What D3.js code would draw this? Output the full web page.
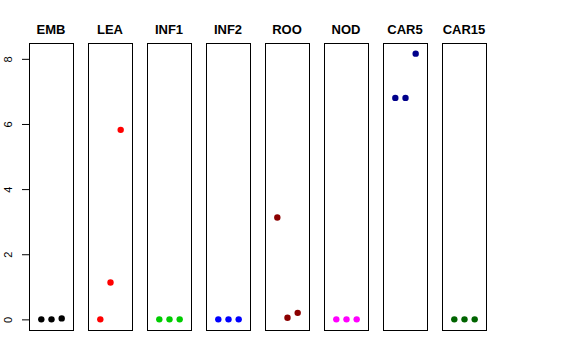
<!DOCTYPE html>
<html>
<head>
<meta charset="utf-8">
<script src="https://cdn.jsdelivr.net/npm/d3@7"></script>
<style>
  body { margin: 0; background: #fff; }
  svg { display: block; }
</style>
</head>
<body>
<div id="chart"></div>
<script>
// tissue panels, three replicate values each
const tissues = ['EMB', 'LEA', 'INF1', 'INF2', 'ROO', 'NOD', 'CAR5', 'CAR15'];
const colors = ['#000000', '#FF0000', '#00CD00', '#0000FF', '#8B0000', '#FF00FF', '#00008B', '#006400'];
const rep1 = [0, 0, 0, 0, 3.13, 0, 6.8, 0];
const rep2 = [0, 1.13, 0, 0, 0.05, 0, 6.8, 0];
const rep3 = [0.03, 5.82, 0, 0, 0.2, 0, 8.16, 0];
const yTicks = [0, 2, 4, 6, 8];

const width = 576, height = 360;
const panelLeft = 29, panelStep = 59, panelW = 44;
const plotTop = 43, plotBottom = 330;

const svg = d3.select('#chart').append('svg')
  .attr('width', width)
  .attr('height', height);

// shared y scale (R style: 4% padding on data range)
const allVals = rep1.concat(rep2, rep3);
const yMin = d3.min(allVals), yMax = d3.max(allVals);
const pad = (yMax - yMin) * 0.04;
const y = d3.scaleLinear()
  .domain([yMin - pad, yMax + pad])
  .range([plotBottom, plotTop]);

// x within each panel: replicate index 1..3 on [0,4] padded
const x = d3.scaleLinear()
  .domain([-0.16, 4.16])
  .range([0, panelW]);

// y axis on the first panel
const yAxis = svg.append('g')
  .attr('transform', `translate(${panelLeft},0)`)
  .call(d3.axisLeft(y).tickValues(yTicks).tickSize(7).tickFormat(d3.format('d')));
yAxis.select('.domain').remove();
yAxis.selectAll('line').attr('stroke', '#000');
yAxis.selectAll('text')
  .attr('font-family', 'Liberation Sans, Arial, sans-serif')
  .attr('font-size', 11)
  .attr('fill', '#000')
  .attr('text-anchor', 'middle')
  .attr('dy', null)
  .attr('x', null)
  .attr('transform', 'translate(-21,0) rotate(-90)')
  .attr('dominant-baseline', 'central');

tissues.forEach((t, i) => {
  const g = svg.append('g')
    .attr('transform', `translate(${panelLeft + i * panelStep},0)`);

  g.append('rect')
    .attr('x', 0.5)
    .attr('y', plotTop + 0.5)
    .attr('width', panelW)
    .attr('height', plotBottom - plotTop)
    .attr('fill', 'none')
    .attr('stroke', '#000')
    .attr('stroke-width', 1);

  g.append('text')
    .attr('x', panelW / 2)
    .attr('y', 34)
    .attr('text-anchor', 'middle')
    .attr('font-family', 'Liberation Sans, Arial, sans-serif')
    .attr('font-weight', 'bold')
    .attr('font-size', 13)
    .text(t);

  const vals = [rep1[i], rep2[i], rep3[i]];
  g.selectAll('circle')
    .data(vals)
    .enter()
    .append('circle')
    .attr('cx', (d, j) => x(j + 1) + 0.5)
    .attr('cy', d => y(d))
    .attr('r', 3.2)
    .attr('fill', colors[i]);
});
</script>
</body>
</html>
